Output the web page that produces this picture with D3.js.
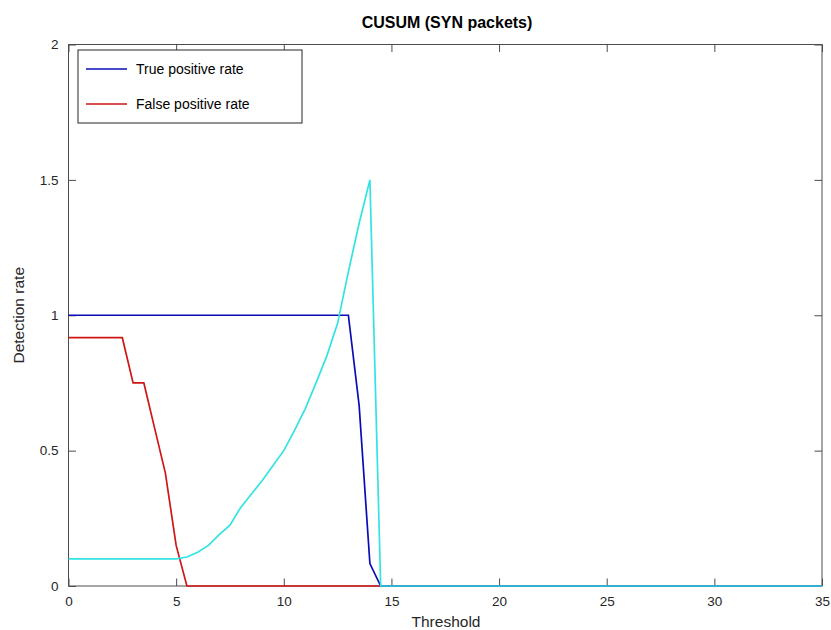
<!DOCTYPE html>
<html><head><meta charset="utf-8">
<script src="https://cdn.jsdelivr.net/npm/d3@7"></script>
<style>body{margin:0;background:#fff}svg{display:block}text{font-family:"Liberation Sans",Arial,sans-serif}</style>
</head><body>
<script>
const thresholds = [0,0.5,1,1.5,2,2.5,3,3.5,4,4.5,5,5.5,6,6.5,7,7.5,8,8.5,9,9.5,10,10.5,11,11.5,12,12.5,13,13.5,14,14.5,15,20,25,30,35];
const tpr = [1,1,1,1,1,1,1,1,1,1,1,1,1,1,1,1,1,1,1,1,1,1,1,1,1,1,1,0.667,0.083,0,0,0,0,0,0];
const fpr = [0.917,0.917,0.917,0.917,0.917,0.917,0.75,0.75,0.583,0.417,0.15,0,0,0,0,0,0,0,0,0,0,0,0,0,0,0,0,0,0,0,0,0,0,0,0];
const ratio = [0.1,0.1,0.1,0.1,0.1,0.1,0.1,0.1,0.1,0.1,0.1,0.107,0.125,0.15,0.19,0.225,0.29,0.34,0.39,0.445,0.5,0.575,0.655,0.75,0.85,0.97,1.16,1.34,1.5,0,0,0,0,0,0];
const xTicks = [0,5,10,15,20,25,30,35];
const yTicks = [0,0.5,1,1.5,2];
const legendLabels = ["True positive rate","False positive rate"];

const W=831,H=630, L=68.5, R=822, T=44.5, B=586;
const svg=d3.select("body").append("svg").attr("width",W).attr("height",H);
const x=d3.scaleLinear().domain([0,35]).range([L,R]);
const y=d3.scaleLinear().domain([0,2]).range([B,T]);
const axCol="#4d4d4d", txtCol="#262626";

// axes box
const tl=7.5;
function styleAxis(g){g.select(".domain").remove();g.selectAll("line").attr("stroke",axCol);g.selectAll("text").attr("fill",txtCol).style("font-size","13.5px");}
svg.append("g").attr("transform",`translate(0,${B})`).call(d3.axisBottom(x).tickValues(xTicks).tickSize(-tl).tickPadding(10).tickFormat(d3.format("d"))).call(styleAxis);
svg.append("g").attr("transform",`translate(0,${T})`).call(d3.axisTop(x).tickValues(xTicks).tickSize(-tl).tickFormat("")).call(styleAxis);
svg.append("g").attr("transform",`translate(${L},0)`).call(d3.axisLeft(y).tickValues(yTicks).tickSize(-tl).tickPadding(10).tickFormat(d=>String(d))).call(styleAxis);
svg.append("g").attr("transform",`translate(${R},0)`).call(d3.axisRight(y).tickValues(yTicks).tickSize(-tl).tickFormat("")).call(styleAxis);
svg.append("rect").attr("x",L).attr("y",T).attr("width",R-L).attr("height",B-T).attr("fill","none").attr("stroke",axCol).attr("stroke-width",1);

// series
const line=d3.line().x((d,i)=>x(thresholds[i])).y(d=>y(d));
const series=[{v:fpr,c:"#d01515"},{v:tpr,c:"#0b0bb8"},{v:ratio,c:"#33e3e3"}];
svg.selectAll("path.s").data(series).join("path").attr("class","s")
  .attr("d",d=>line(d.v)).attr("fill","none").attr("stroke",d=>d.c).attr("stroke-width",1.7);

// title and labels
svg.append("text").attr("x",447).attr("y",28).attr("text-anchor","middle").attr("font-weight","bold").attr("fill","#000").style("font-size","16px").text("CUSUM (SYN packets)");
svg.append("text").attr("x",446).attr("y",627).attr("text-anchor","middle").attr("fill",txtCol).style("font-size","15.5px").text("Threshold");
svg.append("text").attr("transform",`translate(24,${(T+B)/2}) rotate(-90)`).attr("text-anchor","middle").attr("fill",txtCol).style("font-size","15.5px").text("Detection rate");

// legend
const lg=svg.append("g");
lg.append("rect").attr("x",78).attr("y",50).attr("width",224).attr("height",73).attr("fill","#fff").attr("stroke","#262626").attr("stroke-width",1);
const lc=["#0b0bb8","#d01515"];
legendLabels.forEach((t,i)=>{
  const yy=69+i*35;
  lg.append("line").attr("x1",86).attr("x2",127).attr("y1",yy).attr("y2",yy).attr("stroke",lc[i]).attr("stroke-width",1.6);
  lg.append("text").attr("x",136).attr("y",yy+5).attr("fill","#000").style("font-size","14px").text(t);
});
</script>
</body></html>
